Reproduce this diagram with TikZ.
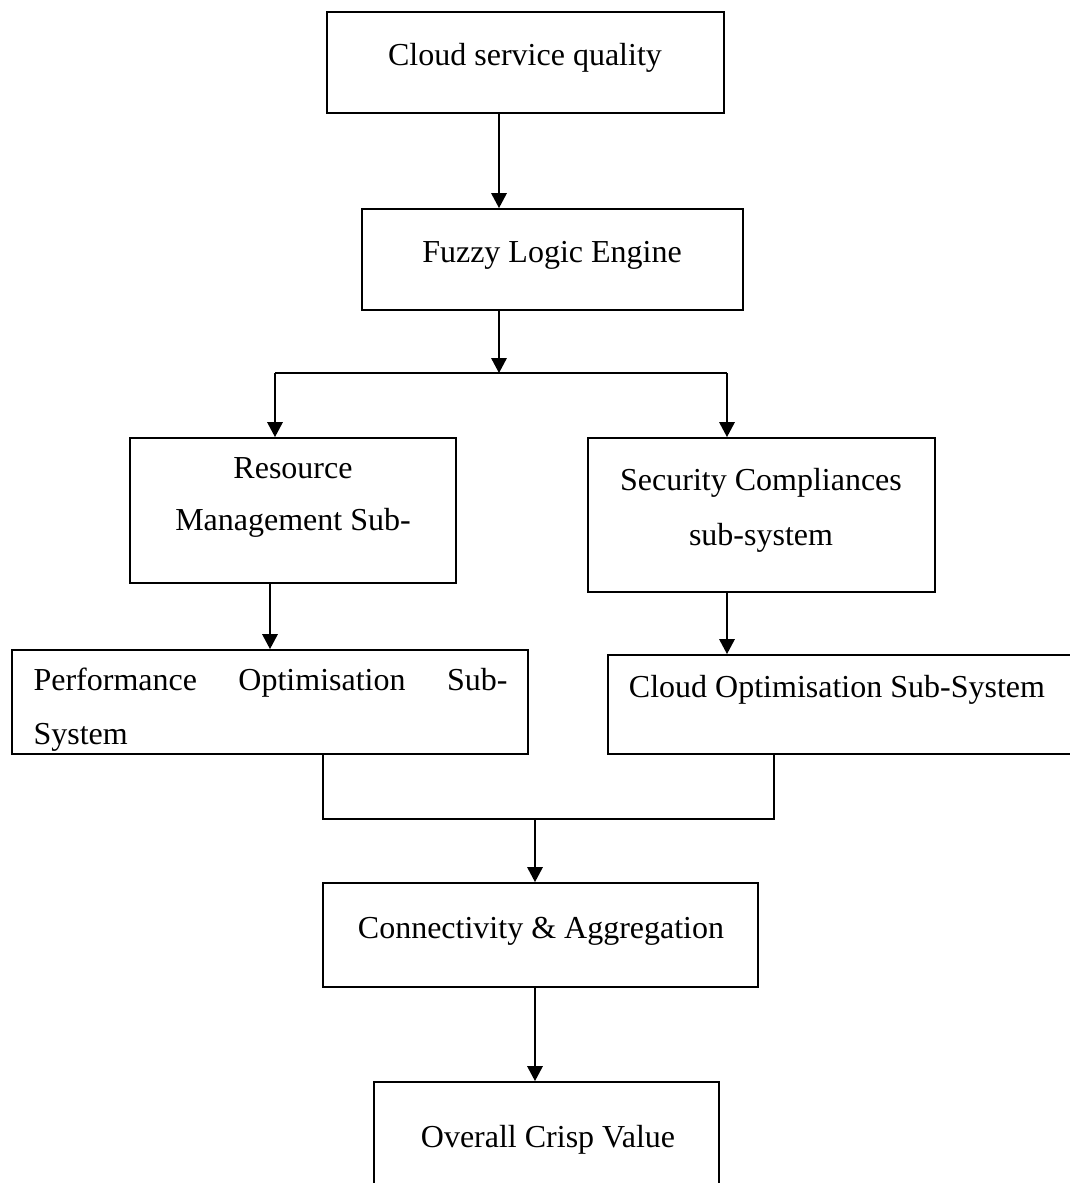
\documentclass[tikz,border=0pt]{standalone}
\usepackage{fontspec}
\setmainfont{Liberation Serif}
\usetikzlibrary{arrows.meta}

\begin{document}
\begin{tikzpicture}[
    x=0.375pt, y=-0.375pt,
    box/.style 2 args = {draw, line width=0.7pt, minimum width=#1*0.375pt, minimum height=#2*0.375pt, inner sep=0pt},
    txt/.style = {inner sep=0pt, align=center, font=\fontsize{12pt}{#1}\selectfont},
    txt/.default = 19.5pt,
    link/.style = {line width=0.4pt},
    flow/.style = {->, line width=0.6pt},
    >={Triangle[length=5.6pt, width=5.8pt]}
  ]
  \useasboundingbox (0,0) rectangle (1070,1183);

  % boxes
  \node[box={397}{101}] (cloud) at (525.5,62.5) {};
  \node[txt, anchor=base] (cloudT) at (525,65) {Cloud service quality};

  \node[box={381}{101}] (fuzzy) at (552.5,259.5) {};
  \node[txt, anchor=base] (fuzzyT) at (552,262) {Fuzzy Logic Engine};

  \node[box={326}{145}] (res) at (293,510.5) {};
  \node[txt=19.5pt, anchor=base] (resT) at (293,530) {Resource\\Management Sub-};

  \node[box={347}{154}] (sec) at (761.5,515) {};
  \node[txt=20.6pt, anchor=base] (secT) at (761,545) {Security Compliances\\sub-system};

  \node[box={516}{104}] (perf) at (270,702) {};
  \node[txt=20.6pt, align=left, text width=474*0.375pt, anchor=base west] (perfT) at (33,690)
    {Performance\hfill Optimisation\hfill Sub-\\System};

  \node[box={467}{99}] (cloudopt) at (841.5,704.5) {};
  \node[txt, anchor=base] (cloudoptT) at (837,697) {Cloud Optimisation Sub-System};

  \node[box={435}{104}] (conn) at (540.5,935) {};
  \node[txt, anchor=base] (connT) at (541,938) {Connectivity \& Aggregation};

  \node[box={345}{108}] (overall) at (546.5,1136) {};
  \node[txt, anchor=base] (overallT) at (548,1147) {Overall Crisp Value};

  % branch points
  \coordinate (split) at (499,373);
  \coordinate (splitL) at (275,373);
  \coordinate (splitR) at (727,373);
  \coordinate (join) at (535,819);
  \coordinate (joinL) at (323,819);
  \coordinate (joinR) at (774,819);

  % connectors
  \draw[flow] (cloud.south -| split) -- (fuzzy.north -| split);
  \draw[flow] (fuzzy.south -| split) -- (split);
  \draw[link] (splitL) -- (splitR);
  \draw[flow] (splitL) -- (res.north -| splitL);
  \draw[flow] (splitR) -- (sec.north -| splitR);

  \draw[flow] (res.south -| perf.north) -- (perf.north);
  \draw[flow] (sec.south -| splitR) -- (cloudopt.north -| splitR);

  \draw[link] (perf.south -| joinL) -- (joinL) -- (joinR) -- (cloudopt.south -| joinR);
  \draw[flow] (join) -- (conn.north -| join);
  \draw[flow] (conn.south -| join) -- (overall.north -| join);

\end{tikzpicture}
\end{document}
